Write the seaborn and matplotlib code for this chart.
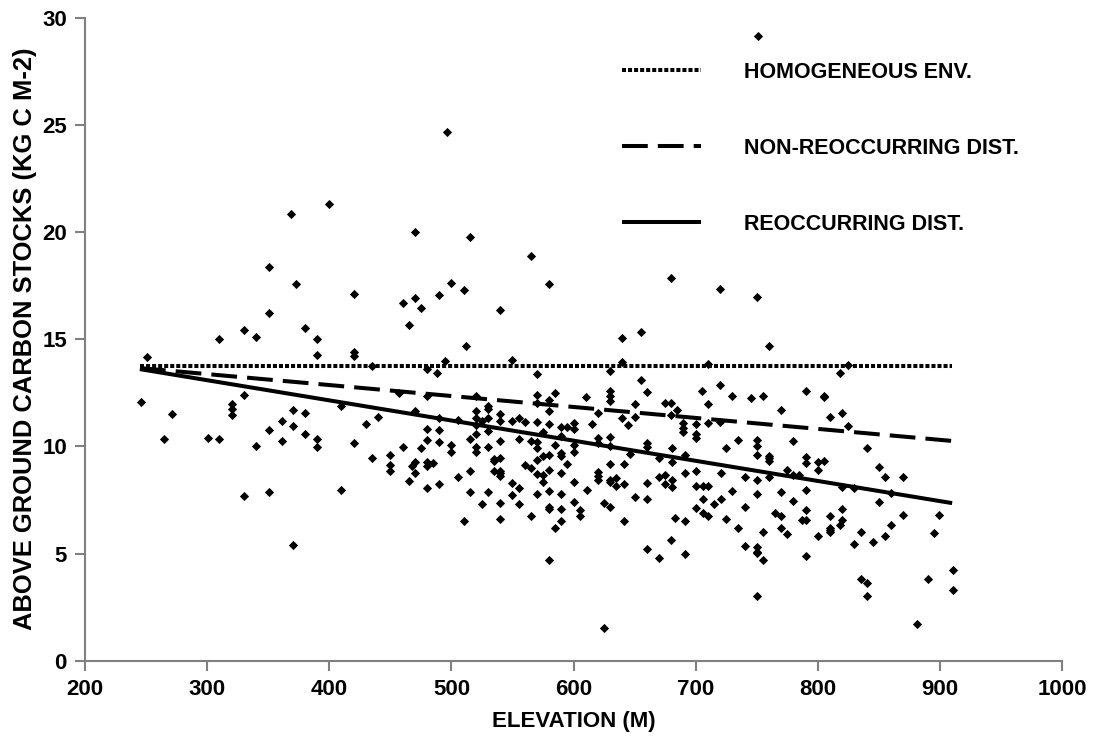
import matplotlib
matplotlib.use("Agg")
import matplotlib.pyplot as plt
from matplotlib.lines import Line2D
import seaborn as sns
import pandas as pd

# Plot-level elevation (m) and above-ground carbon stock (kg C m-2)
elevation = [
    351, 373, 351, 380, 330, 310, 340, 390, 390, 251, 330, 320, 320, 320, 246, 271,
    370, 380, 361, 370, 351, 380, 265, 301, 310, 340, 361, 390, 390, 330, 351, 370,
    751, 496, 369, 400, 470, 515, 565, 420, 500, 510, 460, 470, 475, 490, 540, 465,
    512, 420, 420, 495, 550, 570, 480, 488, 435, 457, 480, 520, 570, 570, 410, 530,
    530, 520, 470, 440, 430, 490, 505, 520, 525, 530, 540, 540, 550, 555, 560, 570,
    480, 490, 520, 520, 530, 515, 480, 490, 500, 540, 555, 565, 570, 420, 460, 475,
    520, 530, 500, 520, 570, 435, 450, 450, 450, 468, 470, 470, 480, 480, 485, 465,
    490, 480, 410, 505, 515, 535, 535, 540, 535, 540, 540, 540, 560, 565, 570, 570,
    550, 555, 515, 530, 550, 525, 540, 555, 570, 510, 540, 565, 580, 680, 720, 640,
    655, 640, 710, 630, 655, 660, 585, 580, 610, 630, 630, 630, 705, 720, 730, 580,
    620, 650, 675, 680, 685, 710, 640, 650, 645, 680, 580, 590, 595, 600, 600, 615,
    690, 690, 690, 700, 700, 700, 710, 720, 575, 590, 585, 600, 620, 620, 630, 630,
    660, 660, 681, 725, 735, 600, 691, 646, 670, 681, 575, 580, 590, 590, 580, 575,
    575, 590, 595, 630, 641, 620, 620, 620, 630, 630, 635, 635, 641, 600, 611, 660,
    670, 675, 675, 681, 681, 691, 700, 700, 706, 710, 721, 730, 580, 590, 650, 660,
    600, 580, 580, 590, 605, 605, 625, 630, 700, 706, 706, 710, 715, 721, 590, 585,
    641, 683, 691, 725, 735, 580, 680, 660, 670, 691, 625, 750, 760, 825, 818, 745,
    755, 790, 805, 805, 770, 810, 820, 825, 750, 750, 780, 840, 750, 760, 760, 760,
    790, 790, 800, 805, 800, 850, 855, 870, 740, 750, 760, 775, 780, 785, 750, 770,
    790, 820, 830, 860, 850, 740, 780, 765, 770, 790, 787, 790, 810, 820, 820, 818,
    810, 810, 810, 870, 860, 855, 895, 899, 755, 770, 775, 800, 835, 845, 830, 740,
    750, 750, 750, 755, 790, 835, 840, 840, 750, 890, 881, 911, 911,
]
carbon = [
    18.35, 17.57, 16.22, 15.52, 15.44, 15.02, 15.08, 15.02, 14.24, 14.15, 12.38, 11.99,
    11.73, 11.46, 12.07, 11.49, 11.69, 11.55, 11.17, 10.95, 10.77, 10.59, 10.34, 10.39,
    10.34, 10.01, 10.23, 10.34, 9.98, 7.68, 7.85, 5.41, 29.14, 24.67, 20.83, 21.32,
    19.98, 19.78, 18.86, 17.12, 17.63, 17.30, 16.68, 16.93, 16.46, 17.04, 16.36, 15.66,
    14.69, 14.38, 14.21, 13.98, 14.04, 13.37, 13.59, 13.43, 13.75, 12.47, 12.36, 12.36,
    12.41, 12.01, 11.89, 11.89, 11.73, 11.65, 11.65, 11.35, 11.03, 11.33, 11.23, 11.33,
    11.19, 11.33, 11.49, 11.19, 11.19, 11.33, 11.12, 11.12, 10.82, 10.76, 10.99, 10.57,
    10.70, 10.35, 10.29, 10.20, 10.06, 10.23, 10.33, 10.26, 10.20, 10.14, 9.95, 9.93,
    9.95, 9.98, 9.72, 9.75, 9.91, 9.45, 9.59, 9.13, 8.83, 9.08, 9.27, 8.74,
    9.28, 9.08, 9.21, 8.38, 8.24, 8.04, 7.96, 8.55, 8.86, 9.41, 9.30, 9.47,
    8.86, 8.86, 8.74, 8.61, 9.13, 8.97, 9.36, 8.71, 8.30, 8.04, 7.85, 7.85,
    7.71, 7.31, 7.36, 7.32, 7.78, 6.53, 6.62, 6.76, 17.56, 17.86, 17.34, 15.04,
    15.35, 13.92, 13.84, 13.53, 13.11, 12.53, 12.49, 12.16, 12.30, 12.59, 12.36, 12.11,
    12.58, 12.86, 12.36, 11.63, 11.54, 11.99, 12.01, 12.01, 11.69, 11.96, 11.33, 11.37,
    10.98, 11.45, 11.04, 10.91, 10.91, 11.10, 10.82, 11.03, 11.07, 10.84, 10.65, 11.04,
    10.57, 10.37, 11.07, 11.12, 10.68, 10.49, 10.06, 10.06, 10.37, 10.14, 10.45, 10.01,
    10.14, 9.95, 9.91, 9.91, 10.29, 9.75, 9.59, 9.64, 9.44, 9.28, 9.55, 9.59,
    9.70, 9.55, 8.89, 8.66, 8.35, 8.74, 9.17, 9.16, 9.17, 8.82, 8.61, 8.43,
    8.43, 8.32, 8.51, 8.15, 8.24, 8.35, 7.96, 8.30, 8.55, 8.68, 8.23, 8.43,
    8.12, 8.77, 8.85, 8.15, 8.15, 8.15, 8.77, 7.92, 7.92, 7.78, 7.62, 7.53,
    7.42, 7.18, 7.06, 7.06, 7.03, 6.76, 7.34, 7.15, 7.14, 7.53, 6.90, 6.75,
    7.31, 7.54, 6.50, 6.20, 6.53, 6.67, 6.53, 6.60, 6.18, 4.70, 5.63, 5.22,
    4.78, 4.96, 1.53, 16.98, 14.66, 13.81, 13.43, 12.27, 12.33, 12.57, 12.36, 12.29,
    11.68, 11.35, 11.54, 10.96, 10.29, 10.01, 10.23, 9.91, 9.59, 9.55, 9.44, 9.33,
    9.49, 9.24, 9.28, 9.33, 8.89, 9.05, 8.55, 8.58, 8.55, 8.43, 8.55, 8.89,
    8.65, 8.65, 7.78, 7.87, 7.96, 8.12, 8.04, 7.81, 7.39, 7.15, 7.45, 6.87,
    6.75, 7.04, 6.56, 6.56, 6.74, 7.09, 6.56, 6.32, 6.20, 6.10, 6.02, 6.80,
    6.33, 5.83, 5.97, 6.80, 6.02, 6.18, 5.90, 5.83, 6.02, 5.55, 5.43, 5.36,
    5.32, 5.08, 5.01, 4.70, 4.90, 3.82, 3.61, 3.00, 3.00, 3.82, 1.70, 4.25, 3.30,
]

# Modelled carbon stock along the elevation gradient for each scenario
fit_elevation = [245, 910]
homogeneous_env = [13.75, 13.75]
non_reoccurring = [13.65, 10.25]
reoccurring = [13.6, 7.35]

scenario_labels = ["HOMOGENEOUS ENV.", "NON-REOCCURRING DIST.", "REOCCURRING DIST."]
x_ticks = [200, 300, 400, 500, 600, 700, 800, 900, 1000]
y_ticks = [0, 5, 10, 15, 20, 25, 30]

sns.set_style("ticks")
plt.rcParams["font.family"] = ["Liberation Sans", "DejaVu Sans"]
plt.rcParams["font.weight"] = "bold"
plt.rcParams["text.color"] = "black"
plt.rcParams["axes.labelcolor"] = "black"

fig = plt.figure(figsize=(10.94, 7.48), dpi=100)
ax = fig.add_axes([0.0777, 0.1167, 0.8931, 0.8599])

points = pd.DataFrame({"elevation": elevation, "carbon": carbon})
sns.scatterplot(data=points, x="elevation", y="carbon", marker="D", s=22,
                color="black", linewidth=0, ax=ax, legend=False, zorder=3)

styles = [
    dict(linestyle=(0, (1.0, 0.5)), linewidth=2.9, dash_capstyle="butt"),
    dict(linestyle=(0, (6.4, 2.5)), linewidth=2.9, dash_capstyle="butt"),
    dict(linestyle="-", linewidth=2.9, solid_capstyle="butt"),
]
for series, st in zip([homogeneous_env, non_reoccurring, reoccurring], styles):
    sns.lineplot(x=fit_elevation, y=series, color="black", ax=ax,
                 errorbar=None, zorder=2, **st)

handles = [Line2D([], [], color="black", **st) for st in styles]
ax.legend(handles, scenario_labels, loc="upper left", bbox_to_anchor=(0.5496, 0.931),
          frameon=False, handlelength=3.65, handletextpad=2.0, labelspacing=2.55,
          borderpad=0, borderaxespad=0, labelcolor="black",
          prop={"size": 15.5, "weight": "bold"})

ax.set_xlim(200, 1000)
ax.set_ylim(0, 30)
ax.set_xticks(x_ticks)
ax.set_yticks(y_ticks)
sns.despine(ax=ax)
for side in ("left", "bottom"):
    ax.spines[side].set_color("#808080")
    ax.spines[side].set_linewidth(1.5)
ax.tick_params(axis="both", direction="out", length=7, width=1.5, color="#808080",
               labelsize=16, labelcolor="black", pad=6)
for lab in ax.get_xticklabels() + ax.get_yticklabels():
    lab.set_fontweight("bold")

ax.set_xlabel("ELEVATION (M)", fontsize=16, fontweight="bold", labelpad=8)
ax.set_ylabel("ABOVE GROUND CARBON STOCKS (KG C M-2)", fontsize=18.4,
              fontweight="bold", labelpad=4)

fig.savefig("out.png", dpi=100)
